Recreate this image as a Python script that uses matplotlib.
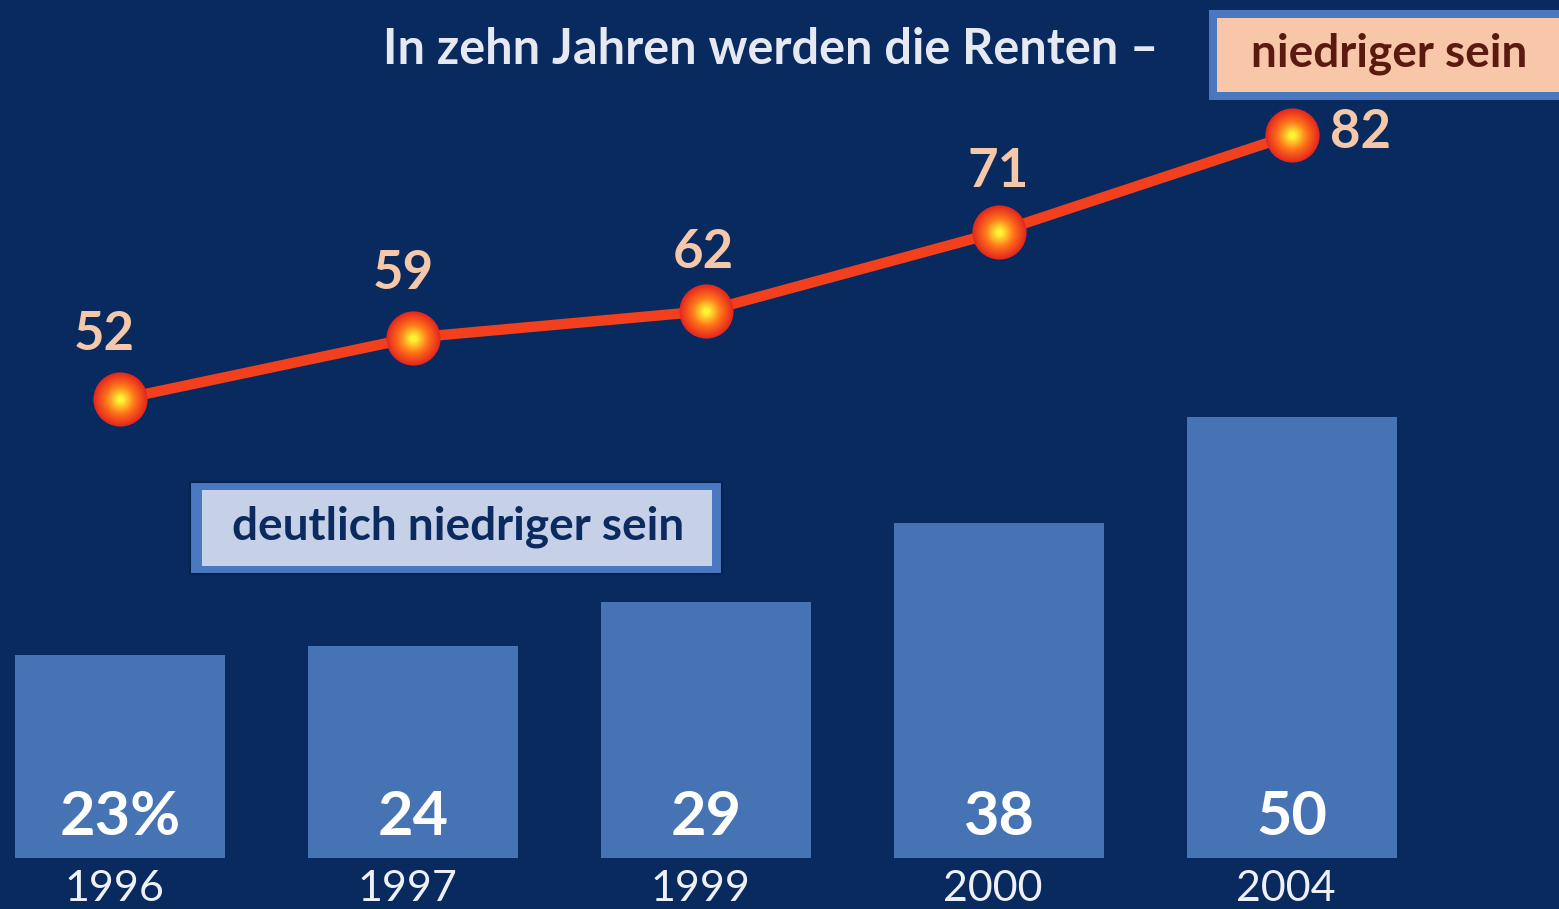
import matplotlib
matplotlib.use("Agg")
import matplotlib.pyplot as plt
from matplotlib.patches import Rectangle
import numpy as np

# data
years = ["1996", "1997", "1999", "2000", "2004"]
bar_values = [23, 24, 29, 38, 50]          # deutlich niedriger sein
bar_labels = ["23%", "24", "29", "38", "50"]
line_values = [52, 59, 62, 71, 82]         # niedriger sein

title = "In zehn Jahren werden die Renten –"
line_name = "niedriger sein"
bar_name = "deutlich niedriger sein"

BG = "#082a5e"
BAR = "#4673b4"
LINE = "#f2401e"
PEACH = "#f6c8aa"

W, H = 1559, 909


def fx(x):
    return x / W


def fy(y):
    return 1 - y / H


fig = plt.figure(figsize=(W / 100, H / 100), dpi=100, facecolor=BG)
ax = fig.add_axes([0, 0, 1, 1])
ax.set_facecolor(BG)
# 293 px per category, 8.82 px per unit
ax.set_xlim(-120 / 293, (W - 120) / 293)
ax.set_ylim(-(H - 858) / 8.82, 858 / 8.82)
ax.axis("off")

x = np.arange(len(years))
ax.bar(x, bar_values, width=0.72, color=BAR, zorder=1)

for xi, lab in zip(x, bar_labels):
    ax.text(xi, 4.6, lab, ha="center", va="center", color="white",
            fontsize=44, fontweight="bold", family="Lato", zorder=3)
for xi, yr in zip(x, years):
    ax.text(xi - 0.02, -3.5, yr, ha="center", va="center", color="#eef0f6",
            fontsize=31, fontweight="normal", family="Lato", zorder=3)

ax.plot(x, line_values, color=LINE, lw=7.5, zorder=4, solid_capstyle="round")

# glowing markers: stacked discs from red rim to yellow centre
rim = np.array([0.90, 0.16, 0.12])
mid = np.array([1.00, 0.45, 0.10])
core = np.array([1.00, 0.95, 0.20])
n = 14
for i in range(n):
    t = i / (n - 1)
    if t < 0.5:
        col = rim + (mid - rim) * (t / 0.5)
    else:
        col = mid + (core - mid) * ((t - 0.5) / 0.5)
    d = 34 * (1 - t) + 5
    ax.scatter(x, line_values, s=d ** 2, color=col, lw=0, zorder=5 + i * 0.01)

offsets = [(-16, 65), (-10, 64), (-3, 59), (-1, 60), (68, 2)]
for xi, v, (dx, dy) in zip(x, line_values, offsets):
    ax.annotate(str(v), (xi, v), xytext=(dx, dy), textcoords="offset pixels",
                ha="center", va="center", color=PEACH, fontsize=38,
                fontweight="bold", family="Lato", zorder=6)

# title
fig.text(fx(383), fy(50), title, ha="left", va="center", color="#e6e8f2",
         fontsize=35, fontweight="bold", family="Lato")

# line legend box (top right)
fig.add_artist(Rectangle((fx(1209), fy(100)), fx(W - 1209 + 10), 90 / H,
                         transform=fig.transFigure, facecolor="#4a78c0",
                         edgecolor="none"))
fig.add_artist(Rectangle((fx(1217), fy(92)), fx(W - 1217 + 10), 74 / H,
                         transform=fig.transFigure, facecolor="#f8c6a8",
                         edgecolor="none"))
fig.text(fx(1389), fy(54), line_name, ha="center", va="center",
         color="#5a1a10", fontsize=33, fontweight="bold", family="Lato")

# bar legend box
fig.add_artist(Rectangle((fx(190), fy(574)), fx(532), 92 / H,
                         transform=fig.transFigure, facecolor="#4a78c0",
                         edgecolor="#062350", lw=1.5))
fig.add_artist(Rectangle((fx(202), fy(566)), fx(510), 76 / H,
                         transform=fig.transFigure, facecolor="#c6d0e6",
                         edgecolor="none"))
fig.text(fx(458), fy(527), bar_name, ha="center", va="center",
         color="#0b2a60", fontsize=33, fontweight="bold", family="Lato")

fig.savefig("out.png", dpi=100, facecolor=BG)
